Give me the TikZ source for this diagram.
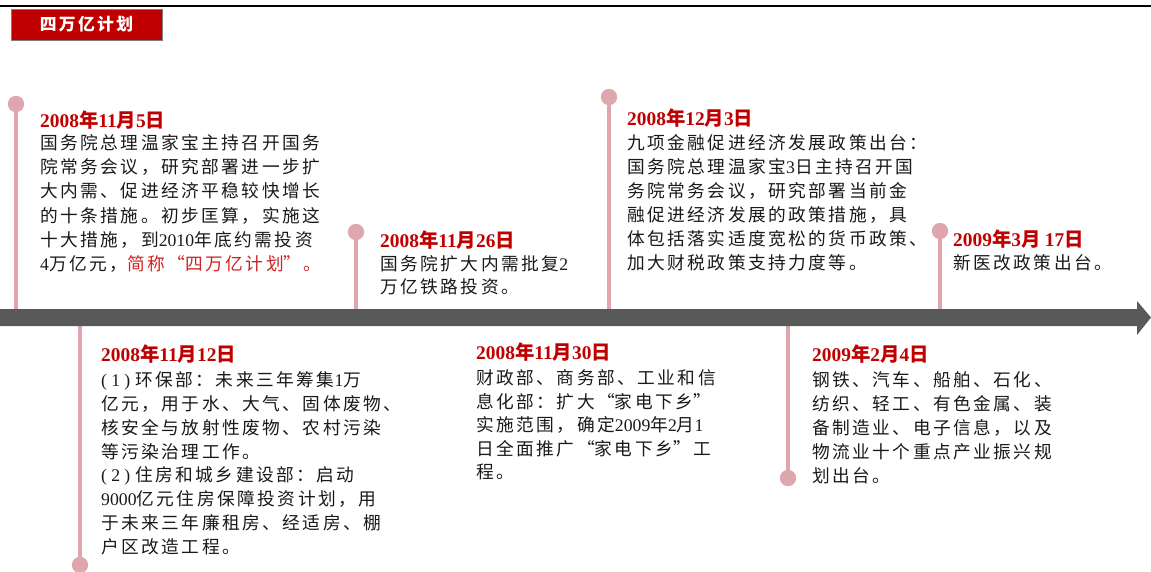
\documentclass[tikz,border=0pt]{standalone}
\usepackage{fontspec}
\setmainfont{Noto Sans CJK SC}[LetterSpace=14]
\newfontfamily\datefont{Noto Sans CJK SC}
\newfontfamily\tnr{Liberation Serif}
\definecolor{datered}{RGB}{192,0,0}
\definecolor{hired}{RGB}{205,35,35}
\definecolor{txtc}{RGB}{25,25,25}
\definecolor{pinc}{RGB}{222,166,173}
\definecolor{barc}{RGB}{89,89,89}
\definecolor{boxred}{RGB}{192,0,0}
\newcommand{\nm}[1]{{\tnr #1}}
\newcommand{\myoq}{\makebox[1.14em][r]{“}}
\newcommand{\mycq}{\makebox[1.14em][l]{”}}
\newcommand{\mypar}[1]{\makebox[29pt][s]{\tnr(\hfill #1\hfill)}\hspace{5pt}}
\begin{document}
\begin{tikzpicture}[x=1pt,y=-1pt,
  txt/.style={anchor=base west, inner sep=0pt, text=txtc, font=\fontsize{17.7}{20}\selectfont},
  dt/.style={anchor=base west, inner sep=0pt, text=datered, font=\datefont\bfseries\fontsize{19.4}{21}\selectfont},
  pin/.style={circle, fill=pinc, inner sep=0pt, minimum size=16pt},
  pinline/.style={draw=pinc, line width=3.2pt}]
\useasboundingbox (0,0) rectangle (1151,571);
% top rule
\draw[line width=2.5pt] (0,6) -- (1151,6);
% header box
\node[draw={rgb,255:red,127;green,127;blue,127}, line width=1pt, fill=boxred, minimum width=151pt, minimum height=31pt, inner sep=0pt,
  text=white, font=\bfseries\fontsize{16.8}{18}\selectfont] (hdr) at (86.5,24.5) {四万亿计划};
% pins
\node[pin] (p1) at (16,104) {};
\node[pin] (p2) at (356,232) {};
\node[pin] (p3) at (609,97) {};
\node[pin] (p4) at (940,231) {};
\node[pin] (p5) at (80,565) {};
\node[pin] (p6) at (788,478) {};
\coordinate (b1) at (16,312);
\coordinate (b2) at (356,312);
\coordinate (b3) at (609,312);
\coordinate (b4) at (940,312);
\coordinate (b5) at (80,322);
\coordinate (b6) at (788,322);
\foreach \i in {1,...,6} {\draw[pinline] (b\i) -- (p\i.center);}
\foreach \i in {1,...,6} {\node[pin] at (p\i) {};}
% timeline bar
\fill[barc] (0,309) -- (1137,309) -- (1137,301) -- (1151,317.5) -- (1137,335) -- (1137,326) -- (0,326) -- cycle;
% block 1
\node[dt] (d1) at (40,127.5) {\nm{2008}年\nm{11}月\nm{5}日};
\node[txt] (t1a) at (40,149.5) {国务院总理温家宝主持召开国务};
\node[txt] (t1b) at (40,173.7) {院常务会议，研究部署进一步扩};
\node[txt] (t1c) at (40,197.9) {大内需、促进经济平稳较快增长};
\node[txt] (t1d) at (40,222.1) {的十条措施。初步匡算，实施这};
\node[txt] (t1e) at (40,246.3) {十大措施，到\nm{2010}年底约需投资};
\node[txt] (t1f) at (40,270.5) {\nm{4}万亿元，\textcolor{hired}{简称\myoq 四万亿计划\mycq 。}};
% block 2
\node[dt] (d2) at (380,247.5) {\nm{2008}年\nm{11}月\nm{26}日};
\node[txt] (t2a) at (380,270.5) {国务院扩大内需批复\nm{2}};
\node[txt] (t2b) at (380,293.5) {万亿铁路投资。};
% block 3
\node[dt] (d3) at (627,125.5) {\nm{2008}年\nm{12}月\nm{3}日};
\node[txt] (t3a) at (627,149.5) {九项金融促进经济发展政策出台：};
\node[txt] (t3b) at (627,173.5) {国务院总理温家宝\nm{3}日主持召开国};
\node[txt] (t3c) at (627,197.5) {务院常务会议，研究部署当前金};
\node[txt] (t3d) at (627,221.5) {融促进经济发展的政策措施，具};
\node[txt] (t3e) at (627,245.5) {体包括落实适度宽松的货币政策、};
\node[txt] (t3f) at (627,269.5) {加大财税政策支持力度等。};
% block 4
\node[dt] (d4) at (953,246.5) {\nm{2009}年\nm{3}月 \nm{17}日};
\node[txt] (t4a) at (953,269.5) {新医改政策出台。};
% block 5
\node[dt] (d5) at (101,361.5) {\nm{2008}年\nm{11}月\nm{12}日};
\node[txt] (t5a) at (101,386.5) {\mypar{1}环保部：未来三年筹集\nm{1}万};
\node[txt] (t5b) at (101,410.4) {亿元，用于水、大气、固体废物、};
\node[txt] (t5c) at (101,434.2) {核安全与放射性废物、农村污染};
\node[txt] (t5d) at (101,458.1) {等污染治理工作。};
\node[txt] (t5e) at (101,481.9) {\mypar{2}住房和城乡建设部：启动};
\node[txt] (t5f) at (101,505.8) {\nm{9000}亿元住房保障投资计划，用};
\node[txt] (t5g) at (101,529.6) {于未来三年廉租房、经适房、棚};
\node[txt] (t5h) at (101,553.5) {户区改造工程。};
% block 6
\node[dt] (d6) at (476,359.5) {\nm{2008}年\nm{11}月\nm{30}日};
\node[txt] (t6a) at (476,384.5) {财政部、商务部、工业和信};
\node[txt] (t6b) at (476,408.0) {息化部：扩大\myoq 家电下乡\mycq};
\node[txt] (t6c) at (476,431.5) {实施范围，确定\nm{2009}年\nm{2}月\nm{1}};
\node[txt] (t6d) at (476,455.0) {日全面推广\myoq 家电下乡\mycq 工};
\node[txt] (t6e) at (476,478.5) {程。};
% block 7
\node[dt] (d7) at (812,361.5) {\nm{2009}年\nm{2}月\nm{4}日};
\node[txt] (t7a) at (812,386.5) {钢铁、汽车、船舶、石化、};
\node[txt] (t7b) at (812,410.5) {纺织、轻工、有色金属、装};
\node[txt] (t7c) at (812,434.5) {备制造业、电子信息，以及};
\node[txt] (t7d) at (812,458.5) {物流业十个重点产业振兴规};
\node[txt] (t7e) at (812,482.5) {划出台。};
\end{tikzpicture}
\end{document}
